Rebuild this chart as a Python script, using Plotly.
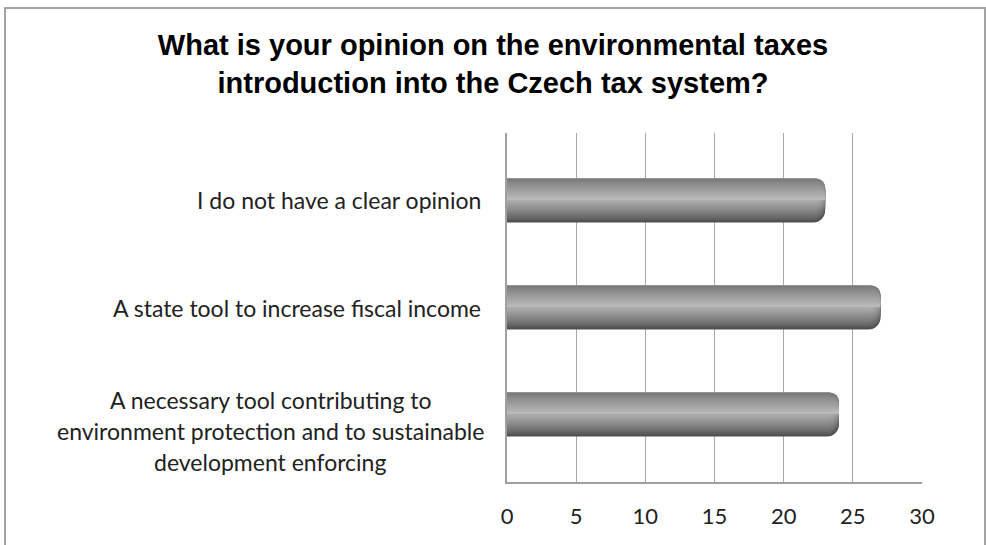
import plotly.graph_objects as go

# Survey answers, listed bottom-to-top as they appear on the chart
categories = [
    "A necessary tool contributing to<br>environment protection and to sustainable<br>development enforcing",
    "A state tool to increase fiscal income",
    "I do not have a clear opinion",
]
values = [24, 27, 23]
tick_values = [0, 5, 10, 15, 20, 25, 30]
title_text = "<b>What is your opinion on the environmental taxes<br>introduction into the Czech tax system?</b>"

W, H = 986, 545
L, R, T, B = 507, 64, 133, 63          # plot area margins (px)
PW, PH = W - L - R, H - T - B

positions = list(range(len(categories)))
BAR = 0.41                              # bar thickness in category units
HL = 0.45                               # fraction from top where the highlight sits


def lerp_hex(c1, c2, t):
    a = [int(c1[i:i + 2], 16) for i in (1, 3, 5)]
    b = [int(c2[i:i + 2], 16) for i in (1, 3, 5)]
    return "#" + "".join(f"{round(x + (y - x) * t):02x}" for x, y in zip(a, b))


def band(f_top, f_bot):
    """offset/width for a horizontal strip between fractions f_top..f_bot of the bar."""
    offset = BAR / 2 - f_bot * BAR
    return offset, (f_bot - f_top) * BAR


fig = go.Figure()
N = 12
TOP_C, MID_C, BOT_C = "#7a7a7a", "#b9b9b9", "#505050"

# lower half of the cylinder: nested strips shrinking toward the highlight
for j in range(N):
    t = j / (N - 1)
    f_bot = 1 - t * (1 - HL)
    off, wid = band(0.0, f_bot)
    fig.add_trace(go.Bar(
        y=positions, x=values, orientation="h",
        offset=off, width=wid,
        marker=dict(color=lerp_hex(BOT_C, MID_C, t ** 0.8), cornerradius=12,
                    line=dict(width=0)),
        hoverinfo="skip", showlegend=False,
    ))

# upper half of the cylinder
for i in range(N):
    t = i / (N - 1)
    f_top = t * HL
    off, wid = band(f_top, HL + 0.02)
    fig.add_trace(go.Bar(
        y=positions, x=values, orientation="h",
        offset=off, width=wid,
        marker=dict(color=lerp_hex(TOP_C, MID_C, t ** 0.9), cornerradius=9,
                    line=dict(width=0)),
        hoverinfo="skip", showlegend=False,
    ))

# category labels
label_font = dict(family="Lato, Open Sans, sans-serif", size=23, color="#222222")
px_per_cat = PH / 3.26
for pos, cat in zip(positions, categories):
    lines = cat.split("<br>")
    if len(lines) == 1:
        fig.add_annotation(
            x=(483 - L) / PW, xref="paper", xanchor="right",
            y=pos, yref="y", yanchor="middle",
            text=cat, showarrow=False, font=label_font,
        )
    else:
        spacing = 31 / px_per_cat
        first = pos - 0.15 + spacing
        for k, line in enumerate(lines):
            fig.add_annotation(
                x=(270 - L) / PW, xref="paper", xanchor="center",
                y=first - k * spacing, yref="y", yanchor="middle",
                text=line, showarrow=False, font=label_font,
            )

# outer chart frame
fig.add_shape(
    type="rect", xref="paper", yref="paper",
    x0=(5 - L) / PW, x1=(985 - L) / PW,
    y0=(H - B - 560) / PH, y1=(H - B - 8) / PH,
    line=dict(color="#a3a3a3", width=2), layer="below",
)

fig.update_layout(
    width=W, height=H,
    margin=dict(l=L, r=R, t=T, b=B),
    paper_bgcolor="white", plot_bgcolor="white",
    barmode="overlay",
    title=dict(
        text=title_text, x=0.5, xanchor="center",
        y=1 - 55 / H, yanchor="middle", yref="container",
        font=dict(family="Liberation Sans, Arial, sans-serif", size=29, color="#000000"),
    ),
    xaxis=dict(
        range=[0, 30], tickvals=tick_values, showgrid=True,
        gridcolor="#a8a8a8", gridwidth=1,
        showline=True, linecolor="#a0a0a0", linewidth=2,
        ticks="", ticklabelstandoff=14, zeroline=False,
        tickfont=dict(family="Lato, Open Sans, sans-serif", size=22, color="#222222"),
        fixedrange=True,
    ),
    yaxis=dict(
        range=[-0.63, 2.63], showticklabels=False, showgrid=False,
        showline=True, linecolor="#a0a0a0", linewidth=2,
        zeroline=False, ticks="", fixedrange=True,
    ),
)

fig.write_html("out.html")
